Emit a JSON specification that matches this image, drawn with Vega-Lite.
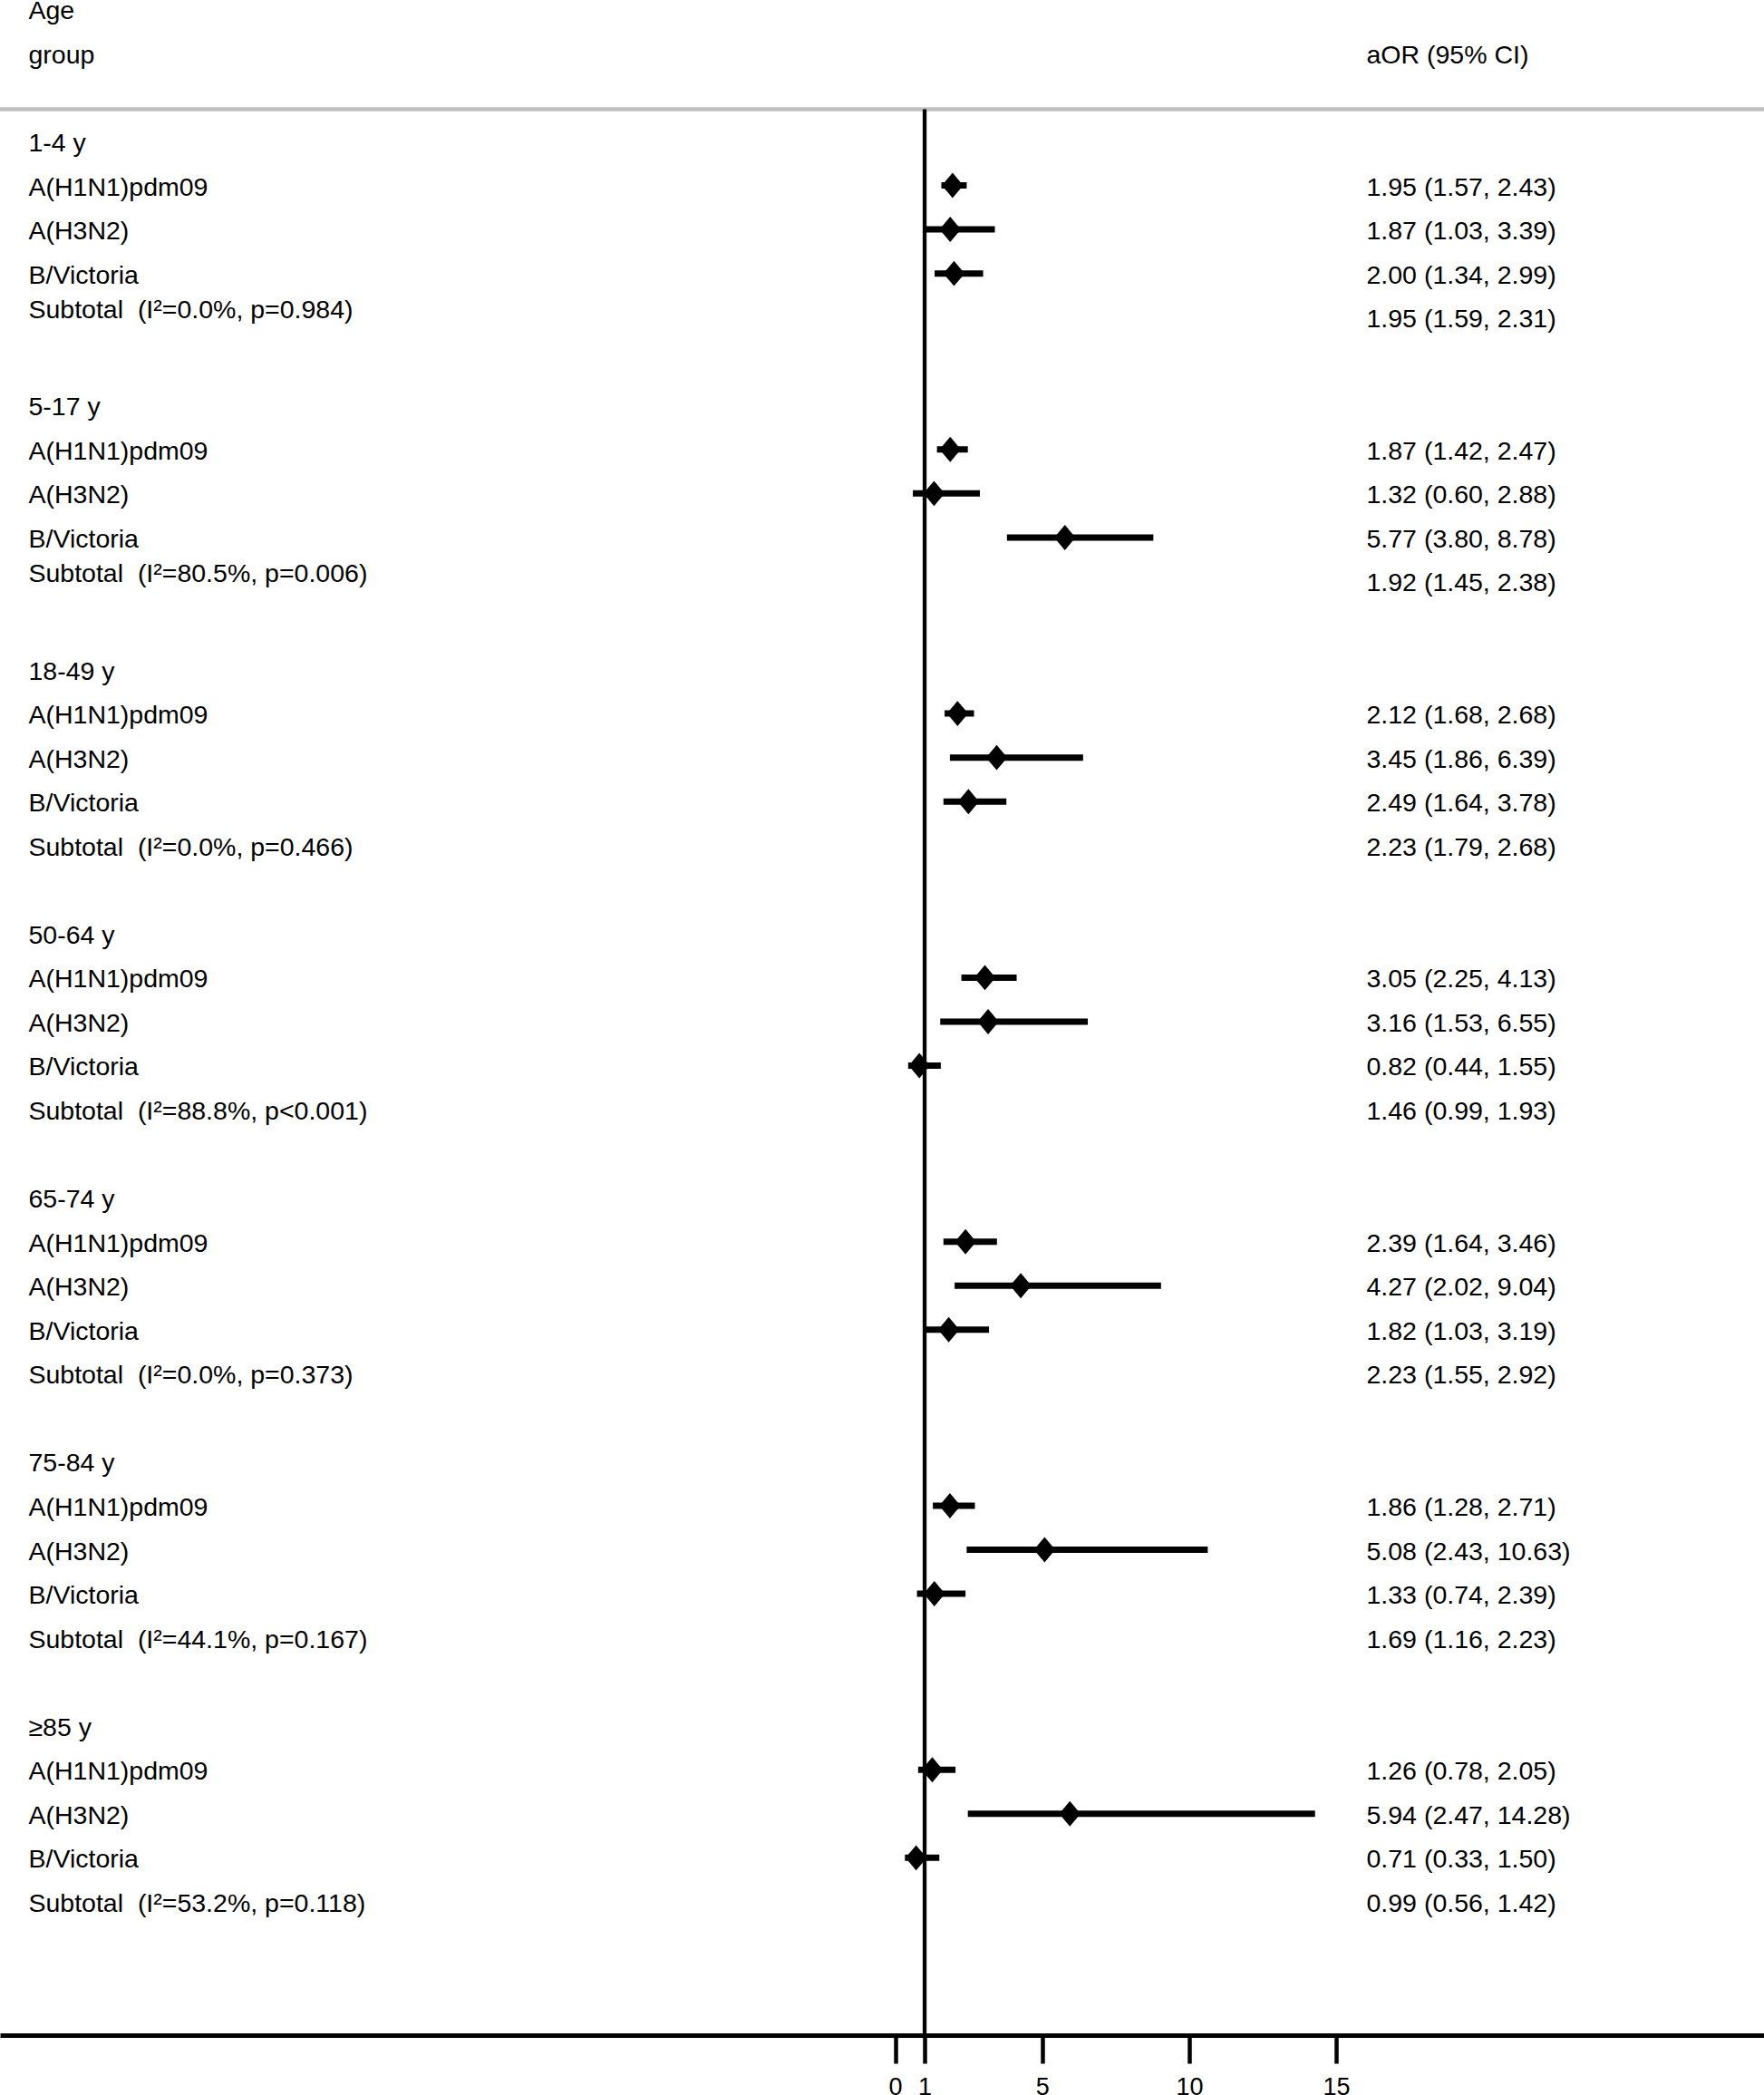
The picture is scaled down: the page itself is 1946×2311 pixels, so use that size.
{
  "$schema": "https://vega.github.io/schema/vega-lite/v6.json",
  "width": 1946,
  "height": 2245,
  "padding": {"top": 0, "left": 0, "right": 0, "bottom": 70},
  "autosize": {"type": "none"},
  "background": "white",
  "config": {
    "view": {"stroke": null},
    "font": "Liberation Sans",
    "axisY": {"disable": true}
  },
  "data": {
    "values": [
      {"row": -3, "kind": "head", "label": "Age"},
      {"row": -2, "kind": "head", "label": "group", "ci": "aOR (95% CI)"},
      {"row": 0, "kind": "group", "label": "1-4 y"},
      {"row": 1, "kind": "est", "label": "A(H1N1)pdm09", "aor": 1.95, "lo": 1.57, "hi": 2.43, "ci": "1.95 (1.57, 2.43)"},
      {"row": 2, "kind": "est", "label": "A(H3N2)", "aor": 1.87, "lo": 1.03, "hi": 3.39, "ci": "1.87 (1.03, 3.39)"},
      {"row": 3, "kind": "est", "label": "B/Victoria", "aor": 2.00, "lo": 1.34, "hi": 2.99, "ci": "2.00 (1.34, 2.99)"},
      {"row": 4, "kind": "sub", "label": "Subtotal\u00a0 (I²=0.0%, p=0.984)", "aor": 1.95, "lo": 1.59, "hi": 2.31, "ci": "1.95 (1.59, 2.31)"},
      {"row": 6, "kind": "group", "label": "5-17 y"},
      {"row": 7, "kind": "est", "label": "A(H1N1)pdm09", "aor": 1.87, "lo": 1.42, "hi": 2.47, "ci": "1.87 (1.42, 2.47)"},
      {"row": 8, "kind": "est", "label": "A(H3N2)", "aor": 1.32, "lo": 0.60, "hi": 2.88, "ci": "1.32 (0.60, 2.88)"},
      {"row": 9, "kind": "est", "label": "B/Victoria", "aor": 5.77, "lo": 3.80, "hi": 8.78, "ci": "5.77 (3.80, 8.78)"},
      {"row": 10, "kind": "sub", "label": "Subtotal\u00a0 (I²=80.5%, p=0.006)", "aor": 1.92, "lo": 1.45, "hi": 2.38, "ci": "1.92 (1.45, 2.38)"},
      {"row": 12, "kind": "group", "label": "18-49 y"},
      {"row": 13, "kind": "est", "label": "A(H1N1)pdm09", "aor": 2.12, "lo": 1.68, "hi": 2.68, "ci": "2.12 (1.68, 2.68)"},
      {"row": 14, "kind": "est", "label": "A(H3N2)", "aor": 3.45, "lo": 1.86, "hi": 6.39, "ci": "3.45 (1.86, 6.39)"},
      {"row": 15, "kind": "est", "label": "B/Victoria", "aor": 2.49, "lo": 1.64, "hi": 3.78, "ci": "2.49 (1.64, 3.78)"},
      {"row": 16, "kind": "sub", "label": "Subtotal\u00a0 (I²=0.0%, p=0.466)", "aor": 2.23, "lo": 1.79, "hi": 2.68, "ci": "2.23 (1.79, 2.68)"},
      {"row": 18, "kind": "group", "label": "50-64 y"},
      {"row": 19, "kind": "est", "label": "A(H1N1)pdm09", "aor": 3.05, "lo": 2.25, "hi": 4.13, "ci": "3.05 (2.25, 4.13)"},
      {"row": 20, "kind": "est", "label": "A(H3N2)", "aor": 3.16, "lo": 1.53, "hi": 6.55, "ci": "3.16 (1.53, 6.55)"},
      {"row": 21, "kind": "est", "label": "B/Victoria", "aor": 0.82, "lo": 0.44, "hi": 1.55, "ci": "0.82 (0.44, 1.55)"},
      {"row": 22, "kind": "sub", "label": "Subtotal\u00a0 (I²=88.8%, p<0.001)", "aor": 1.46, "lo": 0.99, "hi": 1.93, "ci": "1.46 (0.99, 1.93)"},
      {"row": 24, "kind": "group", "label": "65-74 y"},
      {"row": 25, "kind": "est", "label": "A(H1N1)pdm09", "aor": 2.39, "lo": 1.64, "hi": 3.46, "ci": "2.39 (1.64, 3.46)"},
      {"row": 26, "kind": "est", "label": "A(H3N2)", "aor": 4.27, "lo": 2.02, "hi": 9.04, "ci": "4.27 (2.02, 9.04)"},
      {"row": 27, "kind": "est", "label": "B/Victoria", "aor": 1.82, "lo": 1.03, "hi": 3.19, "ci": "1.82 (1.03, 3.19)"},
      {"row": 28, "kind": "sub", "label": "Subtotal\u00a0 (I²=0.0%, p=0.373)", "aor": 2.23, "lo": 1.55, "hi": 2.92, "ci": "2.23 (1.55, 2.92)"},
      {"row": 30, "kind": "group", "label": "75-84 y"},
      {"row": 31, "kind": "est", "label": "A(H1N1)pdm09", "aor": 1.86, "lo": 1.28, "hi": 2.71, "ci": "1.86 (1.28, 2.71)"},
      {"row": 32, "kind": "est", "label": "A(H3N2)", "aor": 5.08, "lo": 2.43, "hi": 10.63, "ci": "5.08 (2.43, 10.63)"},
      {"row": 33, "kind": "est", "label": "B/Victoria", "aor": 1.33, "lo": 0.74, "hi": 2.39, "ci": "1.33 (0.74, 2.39)"},
      {"row": 34, "kind": "sub", "label": "Subtotal\u00a0 (I²=44.1%, p=0.167)", "aor": 1.69, "lo": 1.16, "hi": 2.23, "ci": "1.69 (1.16, 2.23)"},
      {"row": 36, "kind": "group", "label": "≥85 y"},
      {"row": 37, "kind": "est", "label": "A(H1N1)pdm09", "aor": 1.26, "lo": 0.78, "hi": 2.05, "ci": "1.26 (0.78, 2.05)"},
      {"row": 38, "kind": "est", "label": "A(H3N2)", "aor": 5.94, "lo": 2.47, "hi": 14.28, "ci": "5.94 (2.47, 14.28)"},
      {"row": 39, "kind": "est", "label": "B/Victoria", "aor": 0.71, "lo": 0.33, "hi": 1.50, "ci": "0.71 (0.33, 1.50)"},
      {"row": 40, "kind": "sub", "label": "Subtotal\u00a0 (I²=53.2%, p=0.118)", "aor": 0.99, "lo": 0.56, "hi": 1.42, "ci": "0.99 (0.56, 1.42)"}
    ]
  },
  "layer": [
    {
      "data": {"values": [{}]},
      "mark": {"type": "rule", "color": "#c0c0c0", "strokeWidth": 4.5},
      "encoding": {
        "y": {"datum": -0.73, "type": "quantitative", "axis": null, "scale": {"domain": [-3.213, 43.03], "reverse": true, "nice": false, "zero": false}}
      }
    },
    {
      "transform": [{"filter": "datum.kind === 'est'"}],
      "mark": {"type": "rule", "color": "black", "strokeWidth": 7, "strokeCap": "butt"},
      "encoding": {
        "x": {
          "field": "lo", "type": "quantitative", "title": null,
          "scale": {"domain": [-30.45, 29.55], "nice": false, "zero": false},
          "axis": {
            "values": [0, 1, 5, 10, 15], "title": null, "grid": false,
            "domainColor": "black", "domainWidth": 5, "domainCap": "butt",
            "tickColor": "black", "tickWidth": 4.5, "tickSize": 31, "tickCap": "butt",
            "labelFontSize": 27, "labelColor": "black", "labelFont": "Liberation Sans",
            "labelPadding": 13, "labelOverlap": false, "labelFlush": false, "labelBound": false
          }
        },
        "x2": {"field": "hi"},
        "y": {"field": "row", "type": "quantitative", "axis": null, "scale": {"domain": [-3.213, 43.03], "reverse": true, "nice": false, "zero": false}}
      }
    },
    {
      "data": {"values": [{}]},
      "mark": {"type": "rule", "color": "black", "strokeWidth": 4.3, "strokeCap": "butt"},
      "encoding": {
        "x": {"datum": 1, "type": "quantitative", "title": null},
        "y": {"datum": -0.73, "type": "quantitative", "axis": null},
        "y2": {"datum": 43.03}
      }
    },
    {
      "transform": [{"filter": "datum.kind === 'est'"}],
      "mark": {"type": "point", "shape": "M-0.84,0L0,-1L0.84,0L0,1Z", "filled": true, "size": 780, "color": "black", "opacity": 1, "strokeWidth": 0},
      "encoding": {
        "x": {"field": "aor", "type": "quantitative", "title": null},
        "y": {"field": "row", "type": "quantitative", "axis": null}
      }
    },
    {
      "transform": [{"filter": "!(datum.kind === 'sub' && datum.row <= 10)"}],
      "mark": {"type": "text", "align": "left", "baseline": "middle", "dy": 2, "fontSize": 28.5, "font": "Liberation Sans", "color": "black"},
      "encoding": {
        "x": {"datum": -29.48, "type": "quantitative", "title": null},
        "y": {"field": "row", "type": "quantitative", "axis": null},
        "text": {"field": "label"}
      }
    },
    {
      "transform": [{"filter": "datum.kind === 'sub' && datum.row <= 10"}],
      "mark": {"type": "text", "align": "left", "baseline": "middle", "dy": -8, "fontSize": 28.5, "font": "Liberation Sans", "color": "black"},
      "encoding": {
        "x": {"datum": -29.48, "type": "quantitative", "title": null},
        "y": {"field": "row", "type": "quantitative", "axis": null},
        "text": {"field": "label"}
      }
    },
    {
      "transform": [{"filter": "datum.ci != null"}],
      "mark": {"type": "text", "align": "left", "baseline": "middle", "dy": 2, "fontSize": 28.5, "font": "Liberation Sans", "color": "black"},
      "encoding": {
        "x": {"datum": 16.03, "type": "quantitative", "title": null},
        "y": {"field": "row", "type": "quantitative", "axis": null},
        "text": {"field": "ci"}
      }
    }
  ]
}
